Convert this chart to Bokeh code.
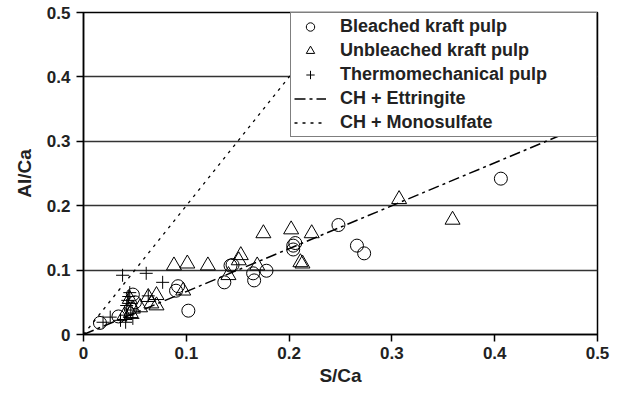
from bokeh.plotting import figure
from bokeh.models import Range1d, FixedTicker, Legend, LegendItem
from bokeh.embed import file_html
from bokeh.resources import INLINE

# Bleached kraft pulp
bkp_s = [0.016, 0.034, 0.046, 0.048, 0.050, 0.090, 0.092, 0.102, 0.137, 0.143, 0.145,
         0.165, 0.166, 0.178, 0.204, 0.204, 0.206, 0.248, 0.266, 0.273, 0.406]
bkp_al = [0.018, 0.028, 0.040, 0.062, 0.050, 0.068, 0.075, 0.037, 0.081, 0.107, 0.108,
          0.095, 0.084, 0.099, 0.138, 0.132, 0.142, 0.170, 0.138, 0.126, 0.242]

# Unbleached kraft pulp
ukp_s = [0.040, 0.045, 0.046, 0.048, 0.055, 0.063, 0.066, 0.071, 0.071, 0.088, 0.097,
         0.101, 0.121, 0.141, 0.151, 0.153, 0.169, 0.175, 0.202, 0.211, 0.213, 0.222,
         0.307, 0.359]
ukp_al = [0.030, 0.055, 0.033, 0.040, 0.042, 0.058, 0.048, 0.061, 0.045, 0.107, 0.068,
          0.110, 0.107, 0.092, 0.115, 0.123, 0.107, 0.157, 0.163, 0.112, 0.110, 0.157,
          0.210, 0.178]

# Thermomechanical pulp
tmp_s = [0.019, 0.026, 0.036, 0.038, 0.041, 0.042, 0.042, 0.043, 0.044, 0.045, 0.046,
         0.048, 0.061, 0.063, 0.077]
tmp_al = [0.019, 0.027, 0.022, 0.092, 0.019, 0.030, 0.045, 0.053, 0.059, 0.065, 0.038,
          0.025, 0.095, 0.060, 0.081]

# Reference lines
ett_s = [0.0, 0.5]
ett_al = [0.0, 0.3333]
mono_s = [0.0, 0.25]
mono_al = [0.0, 0.5]

ticks = [0, 0.1, 0.2, 0.3, 0.4, 0.5]
tick_labels = {0: "0", 0.1: "0.1", 0.2: "0.2", 0.3: "0.3", 0.4: "0.4", 0.5: "0.5"}

FONT = "Liberation Sans"

p = figure(width=618, height=394, output_backend="svg", toolbar_location=None,
           x_range=Range1d(0, 0.5), y_range=Range1d(0, 0.5),
           min_border_left=83, min_border_right=21, min_border_top=12,
           min_border_bottom=60)

p.background_fill_color = "white"
p.border_fill_color = "white"
p.outline_line_color = "black"
p.outline_line_width = 1.5

p.xgrid.grid_line_color = None
p.ygrid.grid_line_color = "#333333"
p.ygrid.grid_line_width = 1.6

for ax in (p.xaxis, p.yaxis):
    ax.ticker = FixedTicker(ticks=ticks)
    ax.major_label_overrides = tick_labels
    ax.major_label_text_font = FONT
    ax.major_label_text_font_style = "bold"
    ax.major_label_text_font_size = "17px"
    ax.major_label_text_color = "#222222"
    ax.axis_label_text_font = FONT
    ax.axis_label_text_font_style = "bold"
    ax.axis_label_text_font_size = "19px"
    ax.axis_label_text_color = "#222222"
    ax.axis_line_color = "black"
    ax.axis_line_width = 1.5
    ax.major_tick_line_color = "black"
    ax.major_tick_line_width = 1.5
    ax.major_tick_out = 7
    ax.major_tick_in = 0
    ax.minor_tick_line_color = None

p.xaxis.axis_label = "S/Ca"
p.yaxis.axis_label = "Al/Ca"
p.xaxis.axis_label_standoff = 3
p.yaxis.axis_label_standoff = 9
p.xaxis.major_label_standoff = 5
p.yaxis.major_label_standoff = 6

r_ett = p.line(ett_s, ett_al, line_color="black", line_width=1.5, line_dash="11 4 3 4")
r_mono = p.line(mono_s, mono_al, line_color="black", line_width=1.3, line_dash="3 5")

r_bkp = p.scatter(bkp_s, bkp_al, marker="circle", size=13, fill_color=None,
                  line_color="black", line_width=1)
r_ukp = p.scatter(ukp_s, ukp_al, marker="triangle", size=15, fill_color=None,
                  line_color="black", line_width=1)
r_tmp = p.scatter(tmp_s, tmp_al, marker="cross", size=13, line_color="black",
                  line_width=1)

legend = Legend(items=[
    LegendItem(label="Bleached kraft pulp", renderers=[r_bkp]),
    LegendItem(label="Unbleached kraft pulp", renderers=[r_ukp]),
    LegendItem(label="Thermomechanical pulp", renderers=[r_tmp]),
    LegendItem(label="CH + Ettringite", renderers=[r_ett]),
    LegendItem(label="CH + Monosulfate", renderers=[r_mono]),
], location="top_right")
legend.margin = 0
legend.padding = 3
legend.spacing = 3
legend.glyph_width = 32
legend.glyph_height = 21
legend.label_height = 21
legend.label_width = 253
legend.label_standoff = 14
legend.label_text_font = FONT
legend.label_text_font_style = "bold"
legend.label_text_font_size = "18px"
legend.label_text_color = "#222222"
legend.border_line_color = "black"
legend.border_line_width = 1.5
legend.background_fill_color = "white"
legend.background_fill_alpha = 1.0
p.add_layout(legend, "center")

open("out.html", "w").write(file_html(p, INLINE))
